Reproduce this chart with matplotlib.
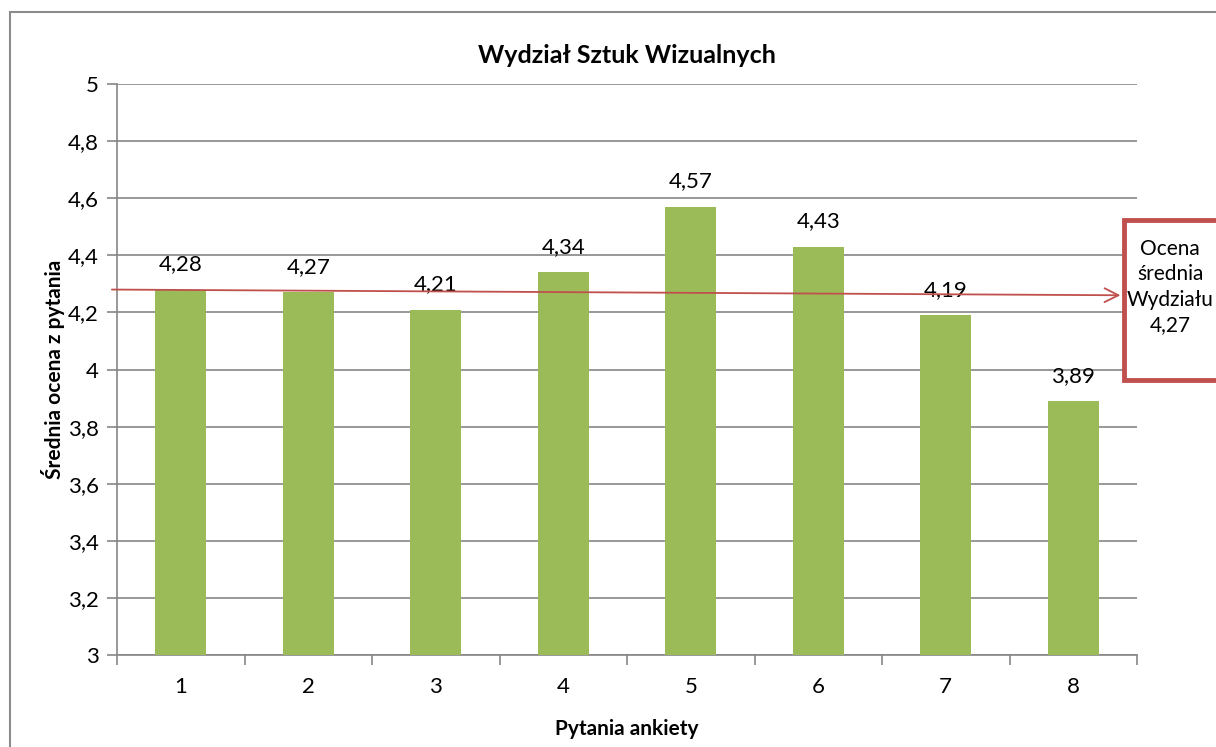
import matplotlib
matplotlib.use("Agg")
import matplotlib.pyplot as plt
from matplotlib.patches import Rectangle

categories = ["1", "2", "3", "4", "5", "6", "7", "8"]
values = [4.28, 4.27, 4.21, 4.34, 4.57, 4.43, 4.19, 3.89]
value_labels = ["4,28", "4,27", "4,21", "4,34", "4,57", "4,43", "4,19", "3,89"]
yticks = [3.0, 3.2, 3.4, 3.6, 3.8, 4.0, 4.2, 4.4, 4.6, 4.8, 5.0]
ytick_labels = ["3", "3,2", "3,4", "3,6", "3,8", "4", "4,2", "4,4", "4,6", "4,8", "5"]
mean_start, mean_end = 4.28, 4.26
box_text = "Ocena\nśrednia\nWydziału\n4,27"

plt.rcParams['font.family'] = ['Lato', 'DejaVu Sans']
W, H = 1216, 747
fig = plt.figure(figsize=(W / 100, H / 100), dpi=100)
ax = fig.add_axes([117 / W, 1 - 655 / H, (1137 - 117) / W, (655 - 84) / H])

grid_c = "#868686"
x = list(range(len(categories)))
ax.bar(x, values, width=0.4, color="#9BBB59", zorder=3, bottom=0)
ax.set_ylim(3, 5)
ax.set_xlim(-0.5, len(categories) - 0.5)
ax.set_yticks(yticks)
ax.set_yticklabels(ytick_labels, fontsize=16)
ax.set_xticks(x)
ax.set_xticklabels(categories, fontsize=16)
ax.set_xticks([i - 0.5 for i in range(len(categories) + 1)], minor=True)
ax.tick_params(axis='x', which='major', length=0, pad=16)
ax.tick_params(axis='x', which='minor', length=7, color=grid_c, width=1.2)
ax.tick_params(axis='y', length=7, color=grid_c, width=1.2, pad=6)
ax.grid(axis='y', color=grid_c, lw=1.2, zorder=0)
for s in ["top", "right"]:
    ax.spines[s].set_visible(False)
for s in ["left", "bottom"]:
    ax.spines[s].set_color(grid_c)
    ax.spines[s].set_linewidth(1.2)

for xi, v, lab in zip(x, values, value_labels):
    ax.annotate(lab, (xi, v), xytext=(0, 11), textcoords="offset points",
                ha="center", va="bottom", fontsize=16, zorder=5)

ax.set_title("Wydział Sztuk Wizualnych", fontsize=18, fontweight="bold", pad=15)
ax.set_ylabel("Średnia ocena z pytania", fontsize=15, fontweight="bold", labelpad=2)
ax.set_xlabel("Pytania ankiety", fontsize=15, fontweight="bold", labelpad=16)

# mean arrow
ax.annotate("", xy=(7.37, mean_end), xytext=(-0.54, mean_start),
            arrowprops=dict(arrowstyle="->", color="#C0504D", lw=1.3,
                            mutation_scale=25, shrinkA=0, shrinkB=0),
            annotation_clip=False, zorder=6)

# frame
fig.patches.append(Rectangle((10 / W, -0.1), 1.2, 1 - 12 / H + 0.1, transform=fig.transFigure,
                             fill=False, edgecolor="#8c8c8c", lw=1.5, clip_on=False))
# box
fig.patches.append(Rectangle((1124 / W, 1 - 380 / H), 110 / W, 160 / H, transform=fig.transFigure,
                             facecolor="white", edgecolor="#C0504D", lw=3.5, clip_on=False))
fig.text(1170 / W, 1 - 287 / H, box_text, ha="center", va="center", fontsize=15,
         linespacing=1.35)

fig.savefig("out.png", dpi=100)
